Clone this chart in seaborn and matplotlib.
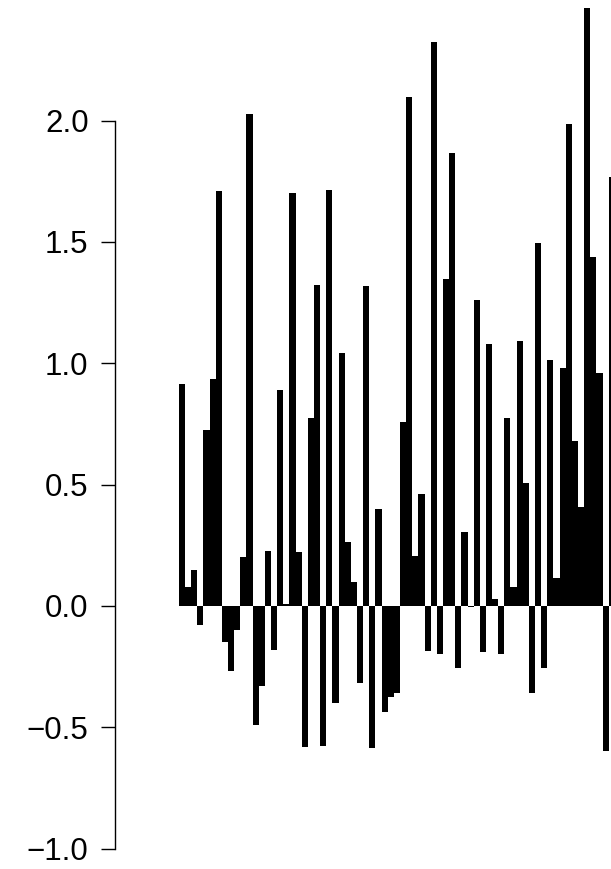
import numpy as np
import pandas as pd
import matplotlib
matplotlib.use("Agg")
import matplotlib.pyplot as plt
import seaborn as sns

# values, one per bar (last bar is cut by the right edge)
values = [0.916, 0.08, 0.148, -0.08, 0.726, 0.936, 1.708, -0.148, -0.27, -0.10,
          0.20, 2.026, -0.49, -0.328, 0.226, -0.18, 0.89, 0.01, 1.70, 0.224,
          -0.58, 0.776, 1.324, -0.576, 1.716, -0.40, 1.044, 0.264, 0.10, -0.316,
          1.32, -0.584, 0.40, -0.436, -0.374, -0.36, 0.756, 2.096, 0.206, 0.46,
          -0.184, 2.324, -0.196, 1.348, 1.868, -0.254, 0.304, -0.006, 1.26, -0.188,
          1.08, 0.028, -0.196, 0.776, 0.078, 1.092, 0.506, -0.36, 1.494, -0.254,
          1.014, 0.116, 0.982, 1.988, 0.68, 0.408, 2.464, 1.436, 0.96, -0.596,
          1.766]
index = list(range(len(values)))
yticks = [-1.0, -0.5, 0.0, 0.5, 1.0, 1.5, 2.0]
ytick_labels = ["\u22121.0", "\u22120.5", "0.0", "0.5", "1.0", "1.5", "2.0"]

sns.set_style("white")
plt.rcParams["font.family"] = ["Liberation Sans", "DejaVu Sans"]

df = pd.DataFrame({"i": index, "v": values})

fig = plt.figure(figsize=(6.11, 8.69), dpi=100)
ax = fig.add_axes([115 / 611, 0, 496 / 611, 1])

sns.barplot(data=df, x="i", y="v", native_scale=True, width=1.0,
            color="black", saturation=1, linewidth=0, errorbar=None, ax=ax)

ax.set_xlim(-10.91, 69.87)
ax.set_ylim(-1.084, 2.497)

for s in ["top", "right", "bottom"]:
    ax.spines[s].set_visible(False)
ax.spines["left"].set_bounds(-1.0, 2.0)
ax.spines["left"].set_linewidth(1.0)
ax.spines["left"].set_color("black")

ax.set_xticks([])
ax.set_yticks(yticks)
ax.set_yticklabels(ytick_labels)
ax.tick_params(axis="y", direction="out", length=10, width=1.0, color="black",
               labelcolor="black", pad=9, labelsize=22.5, left=True)
ax.set_xlabel("")
ax.set_ylabel("")
ax.patch.set_alpha(0)

fig.savefig("out.png", dpi=100)
